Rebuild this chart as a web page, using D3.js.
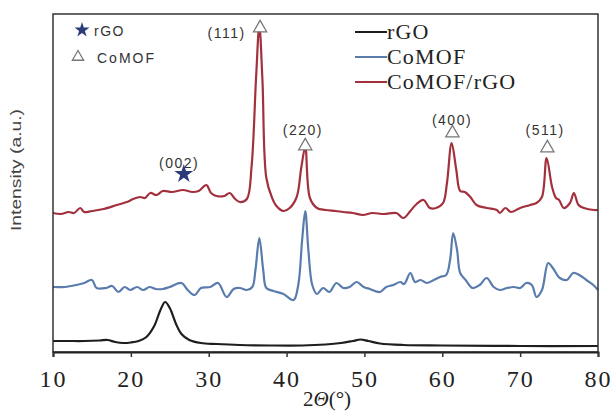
<!DOCTYPE html>
<html>
<head>
<meta charset="utf-8">
<script src="https://cdn.jsdelivr.net/npm/d3@7"></script>
<style>
  body { margin: 0; background: #fff; }
</style>
</head>
<body>
<script>
// XRD patterns (intensity in arbitrary units)
var rgoX = [10,12,14,16,17,18,19,20,21,22,23,23.8,24.4,25,25.8,26.5,27.5,29,31,34,38,42,45,47,48.5,49.5,50.5,52,55,60,70,80];
var rgoY = [11,11,11,11.5,12,10,9,9.5,11,15,26,42,50,44,28,18,12,9,8,7,6.5,6.5,7.5,9,11,12.5,11,8.5,7,6.5,6,6];

var mofX = [10,11.5,13,14,15,15.6,16.8,17.6,18.4,19.2,19.9,20.8,21.6,22.4,23.2,24.1,25,26.5,27.3,28.2,29,30.2,31.2,32.3,33.2,34,34.9,35.6,36,36.5,37,37.4,38.3,39.6,40.9,41.5,42,42.4,42.8,43.3,43.9,44.7,45.5,46.4,47.3,48.1,49,49.9,50.7,52,52.8,53.7,54.6,55.1,55.9,56.5,57.2,58,58.9,59.7,60.5,61,61.4,61.9,62.3,63,63.9,64.8,65.7,66.6,67.4,68.3,69.2,70,70.8,71.5,72.1,72.8,73.6,74.2,75.1,76,76.8,77.6,78.5,79.4,80];
var mofY = [65,65,67,69,72,64,64,66,60,65,62,65,62,65,63,63,65,69,62,57,64,65,69,55,63,64,62,65,82,114,82,64,61,58,52,67,112,141,102,67,58,64,60,69,64,65,70,65,63,60,65,67,70,68,79,70,72,69,72,75,77,92,119,102,79,72,64,67,74,65,62,64,65,64,69,67,55,62,89,84,74,72,79,77,72,67,62];

var compX = [10,11,12,12.7,13.5,14,15,16.5,18.2,19.5,20.3,21.2,21.8,22.5,23.3,24.1,25.3,26.7,27.9,28.7,29.7,30.3,31,32,32.7,33.4,34,34.9,35.5,36.1,36.5,36.9,37.4,38.1,38.7,39.6,40.4,41.3,41.9,42.4,43,43.9,45,46.3,47.3,48.5,49.8,51,52.5,54.1,55,55.9,56.7,57.6,58.4,59.2,60.1,60.6,61.2,61.8,62.3,62.9,63.6,64.4,65.7,67,67.4,68.1,68.8,70,71.3,72.1,72.8,73.4,74.1,74.6,75,75.6,76.4,76.9,77.5,78.2,79.5,80];
var compY = [139,138,140,139,144,140,141,143,147,150,153,155,154,159,157,161,160,162,160,161,167,159,156,156,159,153,150,153,185,277,326,272,174,155,146,141,144,155,185,205,154,144,142,141,140,139,137,139,138,139,134,141,148,152,144,144,149,169,209,182,161,160,155,147,144,142,139,144,140,144,147,149,155,194,165,154,152,144,149,159,147,144,142,142];

var seriesNames = ["rGO", "CoMOF", "CoMOF/rGO"];
var seriesColors = ["#1e1e1e", "#5a7cad", "#a3313d"];

// peak annotations: hkl label position and marker position
var peakLabels = ["(002)", "(111)", "(220)", "(400)", "(511)"];
var peakLabelX = [26.2, 32.3, 42.1, 61.25, 73.2];
var peakLabelY = [189, 319, 222, 232, 222];
var peakMarkX = [26.8, 36.6, 42.4, 61.3, 73.5];
var peakMarkY = [178, 324, 206, 219, 204];
var peakMarkType = ["star", "tri", "tri", "tri", "tri"];

var xTicks = [10, 20, 30, 40, 50, 60, 70, 80];

var width = 615, height = 413;
var margin = {top: 14, right: 17, bottom: 61, left: 53};

var svg = d3.select("body").append("svg")
    .attr("width", width)
    .attr("height", height);

var x = d3.scaleLinear().domain([10, 80]).range([margin.left, width - margin.right]);
var y = d3.scaleLinear().domain([0, 338]).range([height - margin.bottom, margin.top]);

var series = [
    {name: seriesNames[0], xs: rgoX, ys: rgoY, color: seriesColors[0]},
    {name: seriesNames[1], xs: mofX, ys: mofY, color: seriesColors[1]},
    {name: seriesNames[2], xs: compX, ys: compY, color: seriesColors[2]}
];

var line = d3.line()
    .x(function(d) { return x(d[0]); })
    .y(function(d) { return y(d[1]); })
    .curve(d3.curveCatmullRom.alpha(0.5));

svg.selectAll(".trace")
    .data(series)
    .enter()
    .append("path")
    .attr("class", "trace")
    .attr("fill", "none")
    .attr("stroke", function(d) { return d.color; })
    .attr("stroke-width", 2.2)
    .attr("stroke-linejoin", "round")
    .attr("d", function(d) {
        return line(d.xs.map(function(v, i) { return [v, d.ys[i]]; }));
    });

// frame
svg.append("rect")
    .attr("x", margin.left)
    .attr("y", margin.top)
    .attr("width", width - margin.left - margin.right)
    .attr("height", height - margin.top - margin.bottom)
    .attr("fill", "none")
    .attr("stroke", "#333")
    .attr("stroke-width", 1.5);

var xAxis = svg.append("g")
    .attr("transform", "translate(0," + (height - margin.bottom) + ")")
    .call(d3.axisBottom(x).tickValues(xTicks).tickSize(5).tickPadding(13));
xAxis.select(".domain").attr("stroke", "#222").attr("stroke-width", 2);
xAxis.selectAll(".tick line").attr("stroke", "#333").attr("stroke-width", 1.5);
xAxis.selectAll(".tick text")
    .attr("font-family", "Liberation Serif, serif")
    .attr("font-size", 24)
    .attr("letter-spacing", 2)
    .attr("fill", "#222");

// axis titles
var xt = svg.append("text")
    .attr("x", 327)
    .attr("y", 406)
    .attr("text-anchor", "middle")
    .attr("font-family", "Liberation Serif, serif")
    .attr("font-size", 21)
    .attr("fill", "#222");
xt.append("tspan").text("2");
xt.append("tspan").attr("font-style", "italic").text("Θ");
xt.append("tspan").text("(°)");

svg.append("text")
    .attr("transform", "translate(21,170) rotate(-90)")
    .attr("text-anchor", "middle")
    .attr("font-family", "Liberation Sans, sans-serif")
    .attr("font-size", 15)
    .attr("textLength", 122)
    .attr("lengthAdjust", "spacingAndGlyphs")
    .attr("fill", "#444")
    .text("Intensity (a.u.)");

// peak markers and labels
var star = d3.symbol().type(d3.symbolStar);
var tri = d3.symbol().type(d3.symbolTriangle);

peakLabels.forEach(function(lab, i) {
    svg.append("text")
        .attr("x", x(peakLabelX[i]))
        .attr("y", y(peakLabelY[i]))
        .attr("dy", "0.35em")
        .attr("text-anchor", "middle")
        .attr("font-family", "Liberation Sans, sans-serif")
        .attr("font-size", 14)
        .attr("letter-spacing", 1.5)
        .attr("fill", "#333")
        .text(lab);
    var m = svg.append("path")
        .attr("transform", "translate(" + x(peakMarkX[i]) + "," + y(peakMarkY[i]) + ")");
    if (peakMarkType[i] == "star") {
        m.attr("d", star.size(110)()).attr("fill", "#2b3a78");
    } else {
        m.attr("d", tri.size(75)()).attr("fill", "#fff").attr("stroke", "#777").attr("stroke-width", 1.3);
    }
});

// symbol legend (top left)
svg.append("path")
    .attr("transform", "translate(82,30)")
    .attr("d", star.size(70)())
    .attr("fill", "#2b3a78");
svg.append("path")
    .attr("transform", "translate(78,57)")
    .attr("d", tri.size(55)())
    .attr("fill", "#fff")
    .attr("stroke", "#777")
    .attr("stroke-width", 1.3);
svg.append("text").attr("x", 94).attr("y", 31).attr("dy", "0.35em")
    .attr("font-family", "Liberation Sans, sans-serif").attr("font-size", 14)
    .attr("letter-spacing", 1.5).attr("fill", "#333").text("rGO");
svg.append("text").attr("x", 97).attr("y", 58).attr("dy", "0.35em")
    .attr("font-family", "Liberation Sans, sans-serif").attr("font-size", 14)
    .attr("letter-spacing", 2).attr("fill", "#333").text("CoMOF");

// line legend (top right)
var leg = svg.selectAll(".leg")
    .data(series)
    .enter()
    .append("g")
    .attr("class", "leg")
    .attr("transform", function(d, i) { return "translate(355," + (32 + i * 25) + ")"; });
leg.append("line")
    .attr("x1", 0).attr("x2", 32)
    .attr("stroke", function(d) { return d.color; })
    .attr("stroke-width", 2);
leg.append("text")
    .attr("x", 32)
    .attr("dy", "0.33em")
    .attr("font-family", "Liberation Serif, serif")
    .attr("font-size", 22)
    .attr("letter-spacing", 1.2)
    .attr("fill", "#222")
    .text(function(d) { return d.name; });
</script>
</body>
</html>
